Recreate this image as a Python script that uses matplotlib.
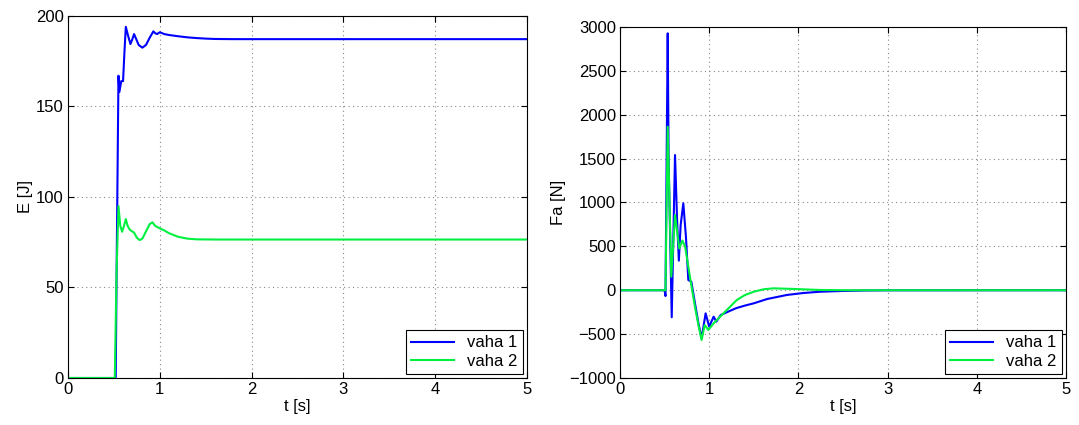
import matplotlib.pyplot as plt

plt.rcParams['font.family'] = ['Liberation Sans', 'DejaVu Sans']
plt.rcParams['font.size'] = 12

# energy, vaha 1 / vaha 2
tE1 = [0, 0.52, 0.53, 0.55, 0.56, 0.58, 0.60, 0.615, 0.63, 0.65, 0.68, 0.70,
       0.72, 0.745, 0.77, 0.81, 0.85, 0.89, 0.93, 0.95, 0.97, 1.0, 1.05, 1.1,
       1.2, 1.3, 1.4, 1.5, 1.6, 1.8, 2.0, 5.0]
E1 = [0, 0, 60, 167, 158, 164, 164, 180, 194, 190, 184.5, 187,
      190, 187, 184, 182.5, 184, 188, 191.5, 190.5, 190, 191, 190, 189.5,
      188.8, 188.2, 187.8, 187.5, 187.3, 187.2, 187.2, 187.2]
tE2 = [0, 0.51, 0.53, 0.55, 0.57, 0.59, 0.61, 0.63, 0.65, 0.675, 0.72, 0.75,
       0.78, 0.81, 0.85, 0.89, 0.92, 0.95, 1.0, 1.05, 1.1, 1.2, 1.3, 1.4,
       1.6, 2.0, 5.0]
E2 = [0, 0, 60, 95, 84, 80.8, 84, 87.8, 84, 81.8, 80.3, 77.5,
      76.2, 77, 81, 85, 86, 84, 82.7, 81.5, 80, 78, 77, 76.6,
      76.5, 76.5, 76.5]

# force Fa, vaha 1 / vaha 2
tF1 = [0, 0.50, 0.51, 0.535, 0.545, 0.58, 0.617, 0.64, 0.66, 0.68, 0.71, 0.74,
       0.766, 0.80, 0.84, 0.88, 0.915, 0.96, 1.0, 1.05, 1.08, 1.13, 1.2, 1.3,
       1.4, 1.5, 1.65, 1.87, 2.05, 2.24, 2.5, 2.75, 3.0, 5.0]
F1 = [0, 0, -66, 2928, 1500, -308, 1541, 800, 337, 743, 991, 600,
      117, 97, -145, -380, -548, -263, -415, -301, -358, -282, -250, -205,
      -175, -149, -100, -54, -32, -17, -8, -3, -1, 0]
tF2 = [0, 0.50, 0.51, 0.535, 0.575, 0.617, 0.665, 0.70, 0.73, 0.79, 0.84, 0.88,
       0.915, 0.95, 0.99, 1.05, 1.16, 1.31, 1.4, 1.5, 1.61, 1.72, 1.94, 2.24,
       2.6, 3.0, 5.0]
F2 = [0, 0, 0, 1864, 154, 858, 475, 567, 498, 117, -187, -400,
      -567, -396, -453, -377, -263, -111, -55, -17, 11, 22, 15, 3,
      0, 0, 0]

labels = ["vaha 1", "vaha 2"]
c1 = '#0000ff'
c2 = '#00f040'

fig = plt.figure(figsize=(10.79, 4.25), dpi=100)
ax1 = fig.add_axes([0.063, 0.1106, 0.4254, 0.8518])
ax2 = fig.add_axes([0.5746, 0.1106, 0.4133, 0.8259])


def style(ax):
    ax.set_xlim(0, 5)
    ax.set_xticks(range(0, 6))
    ax.grid(True, linestyle=(0, (1, 3)), color='#888888', linewidth=0.8)
    ax.tick_params(direction='in', top=True, right=True, length=4, pad=3)
    for s in ax.spines.values():
        s.set_linewidth(0.8)
    ax.set_xlabel("t [s]", labelpad=1)
    leg = ax.legend(labels, loc='lower right', fancybox=False, edgecolor='black',
                    framealpha=1, borderaxespad=0.25, handlelength=2.6,
                    borderpad=0.3, labelspacing=0.2)
    leg.get_frame().set_linewidth(0.8)


ax1.plot(tE1, E1, color=c1, lw=1.5)
ax1.plot(tE2, E2, color=c2, lw=1.5)
ax1.set_ylim(0, 200)
ax1.set_yticks(range(0, 201, 50))
ax1.set_ylabel("E [J]", labelpad=2)
style(ax1)

ax2.plot(tF1, F1, color=c1, lw=1.5)
ax2.plot(tF2, F2, color=c2, lw=1.5)
ax2.set_ylim(-1000, 3000)
ax2.set_yticks(range(-1000, 3001, 500))
ax2.set_ylabel("Fa [N]", labelpad=2)
style(ax2)

fig.savefig("out.png", dpi=100)
